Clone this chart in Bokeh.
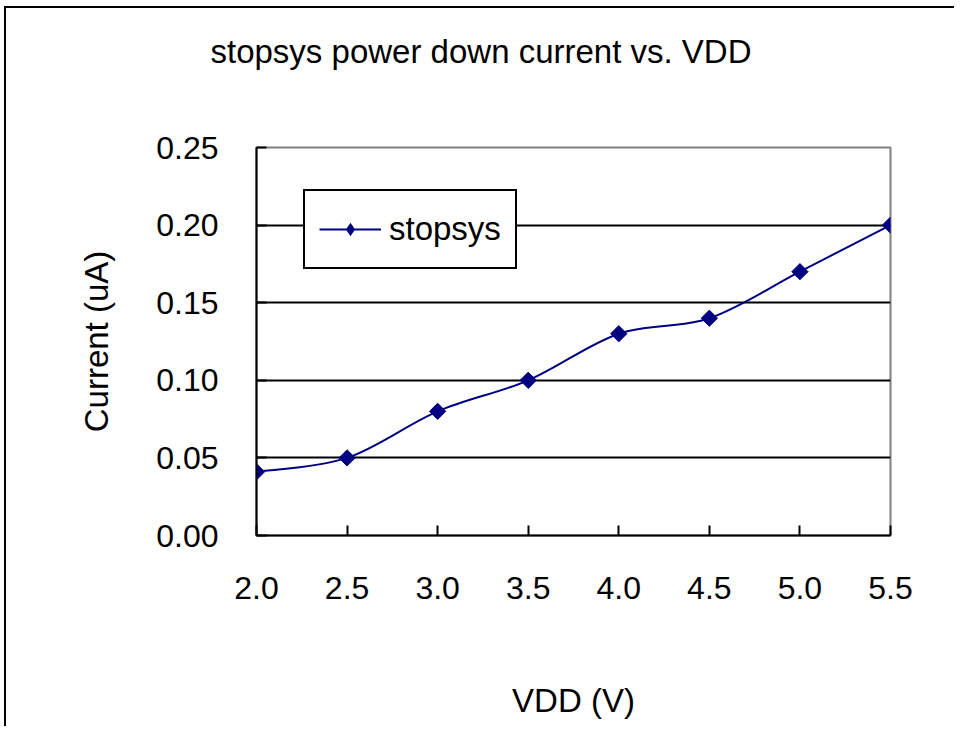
import numpy as np
from bokeh.plotting import figure
from bokeh.models import (Legend, LegendItem, FixedTicker, NumeralTickFormatter,
                          Range1d, ColumnDataSource, Title)
from bokeh.embed import file_html
from bokeh.resources import INLINE

# ---- data ----
vdd = [2.0, 2.5, 3.0, 3.5, 4.0, 4.5, 5.0, 5.5]
current = [0.041, 0.050, 0.080, 0.100, 0.130, 0.140, 0.170, 0.200]
x_ticks = [2.0, 2.5, 3.0, 3.5, 4.0, 4.5, 5.0, 5.5]
y_ticks = [0.0, 0.05, 0.10, 0.15, 0.20, 0.25]
title_text = "stopsys power down current vs. VDD"
x_label = "VDD (V)"
y_label = "Current (uA)"
series_name = "stopsys"

FONT = "Liberation Sans"
NAVY = "#000080"

p = figure(width=950, height=720, output_backend="svg", toolbar_location=None,
           x_range=Range1d(2.0, 5.5), y_range=Range1d(0.0, 0.25),
           min_border_left=250, min_border_right=66, min_border_top=139,
           min_border_bottom=193)
p.background_fill_color = "white"
p.border_fill_color = "white"
p.outline_line_color = "#808080"
p.outline_line_width = 2
p.styles = {"margin-left": "4px", "margin-top": "6px",
            "border-top": "2px solid black", "border-left": "2px solid black"}

# spacer between frame and title
p.add_layout(Title(text=" ", text_font_size="1px", standoff=73), "above")

# title
p.title.text = title_text
p.title.text_font = FONT
p.title.text_font_size = "33px"
p.title.text_font_style = "normal"
p.title.text_color = "black"
p.title.align = "left"
p.title.offset = -46
p.title.vertical_align = "top"
p.title.standoff = 0

# axes
for ax in (p.xaxis[0], p.yaxis[0]):
    ax.axis_line_color = "black"
    ax.axis_line_width = 2
    ax.major_tick_line_color = "black"
    ax.major_tick_line_width = 2
    ax.major_tick_in = 10
    ax.major_tick_out = 0
    ax.minor_tick_line_color = None
    ax.major_label_text_font = FONT
    ax.major_label_text_font_size = "32px"
    ax.major_label_text_color = "black"
    ax.axis_label_text_font = FONT
    ax.axis_label_text_font_size = "33px"
    ax.axis_label_text_font_style = "normal"
    ax.axis_label_text_color = "black"

p.xaxis[0].ticker = FixedTicker(ticks=x_ticks)
p.xaxis[0].formatter = NumeralTickFormatter(format="0.0")
p.xaxis[0].major_label_standoff = 41
p.xaxis[0].axis_label = x_label
p.xaxis[0].axis_label_standoff = 80
p.yaxis[0].ticker = FixedTicker(ticks=y_ticks)
p.yaxis[0].formatter = NumeralTickFormatter(format="0.00")
p.yaxis[0].major_label_standoff = 38
p.yaxis[0].axis_label = y_label
p.yaxis[0].axis_label_standoff = 38

p.xgrid.visible = False
p.ygrid.grid_line_color = "black"
p.ygrid.grid_line_width = 2
p.ygrid.ticker = FixedTicker(ticks=y_ticks[1:-1])

# smoothed line (Catmull-Rom style bezier through the data points)
xs = np.array(vdd)
ys = np.array(current)
xp = np.concatenate([[xs[0]], xs, [xs[-1]]])
yp = np.concatenate([[ys[0]], ys, [ys[-1]]])
n = len(xs)
bsrc = ColumnDataSource(dict(
    x0=xs[:-1], y0=ys[:-1], x1=xs[1:], y1=ys[1:],
    cx0=xs[:-1] + (xp[2:n + 1] - xp[0:n - 1]) / 6.0,
    cy0=ys[:-1] + (yp[2:n + 1] - yp[0:n - 1]) / 6.0,
    cx1=xs[1:] - (xp[3:n + 2] - xp[1:n]) / 6.0,
    cy1=ys[1:] - (yp[3:n + 2] - yp[1:n]) / 6.0))
curve = p.bezier(x0="x0", y0="y0", x1="x1", y1="y1", cx0="cx0", cy0="cy0",
                 cx1="cx1", cy1="cy1", source=bsrc, line_color=NAVY, line_width=2)
pts = p.scatter(vdd, current, marker="square", angle=np.pi / 4, size=11.5,
                fill_color=NAVY, line_color=NAVY)
# diamond used for the legend sample (zero size on the plot itself)
legend_marker = p.scatter(vdd, current, marker="diamond", size=0,
                          fill_color=NAVY, line_color=None)

legend = Legend(items=[LegendItem(label=series_name, renderers=[curve, legend_marker])],
                location=(47, 266), orientation="vertical")
legend.label_text_font = FONT
legend.label_text_font_size = "33px"
legend.label_text_color = "black"
legend.border_line_color = "black"
legend.border_line_alpha = 1.0
legend.border_line_width = 2
legend.background_fill_color = "white"
legend.background_fill_alpha = 1.0
legend.padding = 14
legend.margin = 0
legend.glyph_width = 62
legend.glyph_height = 34
legend.label_height = 48
legend.label_standoff = 8
p.add_layout(legend, "center")

open("out.html", "w").write(file_html(p, INLINE))
